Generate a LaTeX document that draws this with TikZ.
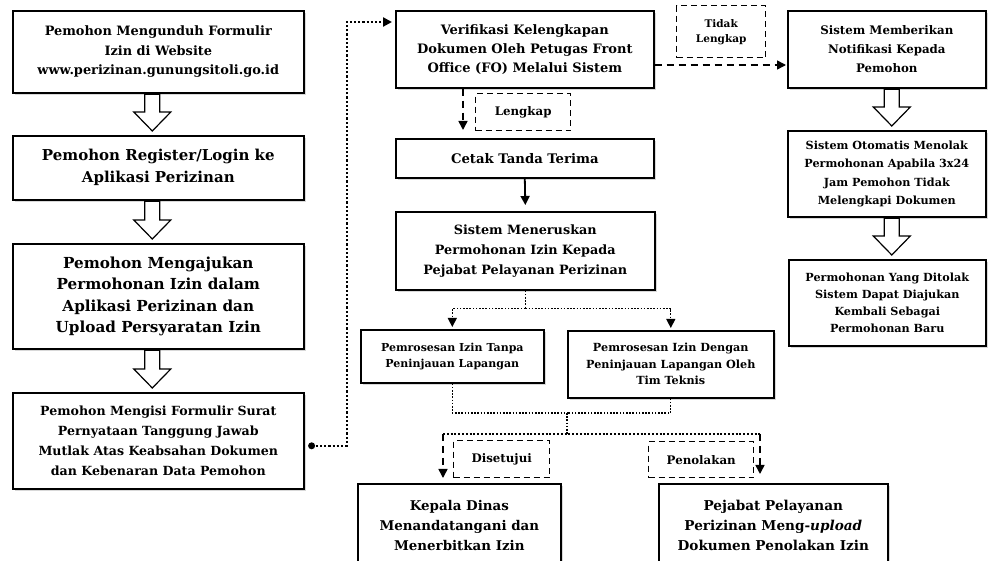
\documentclass[tikz,border=0pt]{standalone}
\usepackage{fontspec}
\setmainfont{DejaVu Serif}
\usetikzlibrary{arrows.meta,calc,shadows}
\newcommand\fs[2]{\bfseries\fontsize{#1}{#2}\selectfont}
\newcommand\hollow[3][0pt]{\draw[line width=1.2pt, fill=white] let \p1=(#2.south), \p2=(#3.north) in
  (\x1+#1-7.5pt,\y1-0.8pt) -- (\x1+#1+7.5pt,\y1-0.8pt) -- (\x1+#1+7.5pt,\y2+23pt) -- (\x1+#1+18.5pt,\y2+23pt)
  -- (\x1+#1,\y2+4pt) -- (\x1+#1-18.5pt,\y2+23pt) -- (\x1+#1-7.5pt,\y2+23pt) -- cycle;}
\begin{document}
\begin{tikzpicture}[x=1pt,y=-1pt,
  box/.style={draw, line width=1.6pt, fill=white, align=center, inner sep=0pt, anchor=north west,
    drop shadow={opacity=0.3, shadow xshift=2.5pt, shadow yshift=-2.5pt}},
  lbl/.style={draw, line width=1.4pt, dash pattern=on 6pt off 4pt, fill=white, align=center,
    anchor=north west, inner sep=0pt, font=\fs{11.8}{15}},
  tip/.style={-{Triangle[length=9pt,width=9pt]}},
  dashline/.style={line width=1.5pt, dash pattern=on 7pt off 5pt},
  thickdot/.style={line width=2.2pt, dash pattern=on 2.2pt off 2pt},
  thindot/.style={line width=1.2pt, dash pattern=on 1.6pt off 1.6pt},
  meddot/.style={line width=1.8pt, dash pattern=on 2pt off 1.8pt}]
\useasboundingbox (0,0) rectangle (989,561);
\fill[white] (0,0) rectangle (989,561);

% left column
\node[box, minimum width=291, minimum height=82, font=\fs{12.9}{19.5}] (A) at (12,10)
  {Pemohon Mengunduh Formulir\\Izin di Website\\www.perizinan.gunungsitoli.go.id};
\node[box, minimum width=291, minimum height=64, font=\fs{15}{22}] (B) at (12,135)
  {Pemohon Register/Login ke\\Aplikasi Perizinan};
\node[box, minimum width=291, minimum height=105, font=\fs{15.2}{21.5}] (C) at (12,243)
  {Pemohon Mengajukan\\Permohonan Izin dalam\\Aplikasi Perizinan dan\\Upload Persyaratan Izin};
\node[box, minimum width=291, minimum height=96, font=\fs{12.6}{20}] (D) at (12,392)
  {Pemohon Mengisi Formulir Surat\\Pernyataan Tanggung Jawab\\Mutlak Atas Keabsahan Dokumen\\dan Kebenaran Data Pemohon};
\hollow[-6pt]{A}{B}
\hollow[-6pt]{B}{C}
\hollow[-6pt]{C}{D}

% middle column
\node[box, minimum width=258, minimum height=77, font=\fs{13}{19}] (V) at (395,10)
  {Verifikasi Kelengkapan\\Dokumen Oleh Petugas Front\\Office (FO) Melalui Sistem};
\node[box, minimum width=258, minimum height=39, font=\fs{13.2}{19}] (Ct) at (395,138)
  {Cetak Tanda Terima};
\node[box, minimum width=259, minimum height=78, font=\fs{12.8}{20}] (S) at (395,211)
  {Sistem Meneruskan\\Permohonan Izin Kepada\\Pejabat Pelayanan Perizinan};
\node[box, minimum width=183, minimum height=53, font=\fs{11}{16.5}] (P1) at (360,329)
  {Pemrosesan Izin Tanpa\\Peninjauan Lapangan};
\node[box, minimum width=206, minimum height=67, font=\fs{11.2}{16.5}] (P2) at (567,330)
  {Pemrosesan Izin Dengan\\Peninjauan Lapangan Oleh\\Tim Teknis};
\node[box, minimum width=203, minimum height=83, font=\fs{13.4}{20}] (K) at (357,483)
  {Kepala Dinas\\Menandatangani dan\\Menerbitkan Izin};
\node[box, minimum width=229, minimum height=83, font=\fs{13.6}{20}] (Pj) at (658,483)
  {Pejabat Pelayanan\\Perizinan Meng-\textit{upload}\\Dokumen Penolakan Izin};

% right column
\node[box, minimum width=198, minimum height=77, font=\fs{11.8}{19}] (N) at (787,10)
  {Sistem Memberikan\\Notifikasi Kepada\\Pemohon};
\node[box, minimum width=198, minimum height=86, font=\fs{11.2}{18.5}] (O) at (787,130)
  {Sistem Otomatis Menolak\\Permohonan Apabila 3x24\\Jam Pemohon Tidak\\Melengkapi Dokumen};
\node[box, minimum width=197, minimum height=86, font=\fs{11.2}{16.7}] (T) at (788,259)
  {Permohonan Yang Ditolak\\Sistem Dapat Diajukan\\Kembali Sebagai\\Permohonan Baru};
\hollow[5pt]{N}{O}
\hollow[5pt]{O}{T}

% labels
\node[lbl, minimum width=95, minimum height=37] (L1) at (475,93) {Lengkap};
\node[lbl, minimum width=89, minimum height=52, font=\fs{10.5}{15}] (L2) at (676,5) {Tidak\\Lengkap};
\node[lbl, minimum width=96, minimum height=37] (L3) at (453,440) {Disetujui};
\node[lbl, minimum width=105, minimum height=36] (L4) at (648,441) {Penolakan};

% connectors
\node[circle, fill, inner sep=0pt, minimum size=7pt] (dot) at ($(D.east)+(7,5)$) {};
\draw[thickdot, tip] (dot.center) -- ++(35,0) |- ($(V.north west)+(-3,12)$);
\draw[dashline, tip] ($(V.north east)+(0,55)$) -- ($(N.north west)+(-1,55)$);
\draw[dashline, tip] ($(V.south west)+(68,0)$) -- ($(Ct.north west)+(68,-8)$);
\draw[line width=1.8pt, tip] (Ct.south) -- ($(S.north)+(0,-6)$);
\draw[thindot] (S.south) -- ++(0,18) coordinate (s1);
\draw[thindot, tip] (s1) -| ($(P1.north)+(0,-2)$);
\draw[thindot, tip] (s1) -| ($(P2.north)+(0,-2)$);
\coordinate (m1) at (567,413);
\coordinate (m2) at (567,434);
\coordinate (kl) at (443,434);
\coordinate (kr) at (760,434);
\draw[thindot] (P1.south) |- (m1);
\draw[thindot] (P2.south) |- (m1);
\draw[thindot] (m1) -- (m2);
\draw[meddot] (kl) -- (kr);
\draw[dashline, tip] (kl) -- ($(K.north west)+(86,-5)$);
\draw[dashline, tip] (kr) -- ($(Pj.north west)+(102,-9)$);
\end{tikzpicture}
\end{document}
